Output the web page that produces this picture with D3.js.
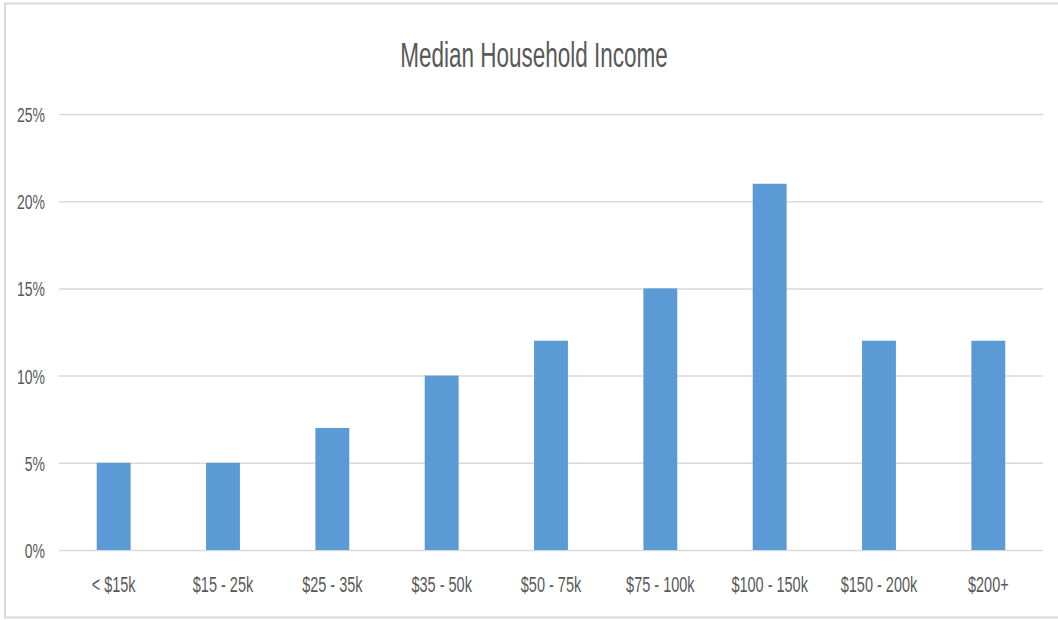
<!DOCTYPE html>
<html>
<head>
<meta charset="utf-8">
<script src="https://cdn.jsdelivr.net/npm/d3@7"></script>
<style>
  html, body { margin: 0; padding: 0; background: #fff; }
  svg { display: block; }
  text { font-family: "Liberation Sans", Arial, sans-serif; fill: #595959; }
</style>
</head>
<body>
<svg id="chart" width="1058" height="620"></svg>
<script>
// Income brackets and the share of households in each
const categories = ["< $15k", "$15 - 25k", "$25 - 35k", "$35 - 50k", "$50 - 75k",
                    "$75 - 100k", "$100 - 150k", "$150 - 200k", "$200+"];
const shares = [5, 5, 7, 10, 12, 15, 21, 12, 12];
const yTicks = [0, 5, 10, 15, 20, 25];
const title = "Median Household Income";

const svg = d3.select("#chart");
const W = 1058, H = 620;
const plot = { left: 59, right: 1043, top: 114, bottom: 550 };

// chart area frame
svg.append("rect")
  .attr("x", 5).attr("y", 3.5)
  .attr("width", W + 10).attr("height", 614)
  .attr("fill", "#fff")
  .attr("stroke", "#d9d9d9").attr("stroke-width", 2);

const x = d3.scaleBand()
  .domain(categories)
  .range([plot.left, plot.right])
  .paddingInner(0.69).paddingOuter(0.345);

const y = d3.scaleLinear()
  .domain([0, 25])
  .range([plot.bottom, plot.top]);

// horizontal gridlines
svg.append("g")
  .selectAll("line")
  .data(yTicks)
  .join("line")
  .attr("x1", plot.left).attr("x2", plot.right)
  .attr("y1", d => y(d) + 0.5).attr("y2", d => y(d) + 0.5)
  .attr("stroke", "#d9d9d9").attr("stroke-width", 1.5);

// y-axis labels
svg.append("g")
  .selectAll("text")
  .data(yTicks)
  .join("text")
  .attr("transform", d => `translate(45, ${y(d) + 8}) scale(1, 1.5)`)
  .attr("text-anchor", "end")
  .attr("font-size", 14)
  .text(d => d + "%");

// bars
svg.append("g")
  .selectAll("rect")
  .data(shares)
  .join("rect")
  .attr("x", (d, i) => x(categories[i]))
  .attr("width", x.bandwidth())
  .attr("y", d => y(d))
  .attr("height", d => y(0) - y(d))
  .attr("fill", "#5b9bd5");

// category labels
svg.append("g")
  .selectAll("text")
  .data(categories)
  .join("text")
  .attr("transform", d => `translate(${x(d) + x.bandwidth() / 2}, 592) scale(1, 1.5)`)
  .attr("text-anchor", "middle")
  .attr("font-size", 14.5)
  .text(d => d);

// title
svg.append("text")
  .attr("transform", "translate(534, 67) scale(1, 1.6)")
  .attr("text-anchor", "middle")
  .attr("font-size", 22.5)
  .text(title);
</script>
</body>
</html>
